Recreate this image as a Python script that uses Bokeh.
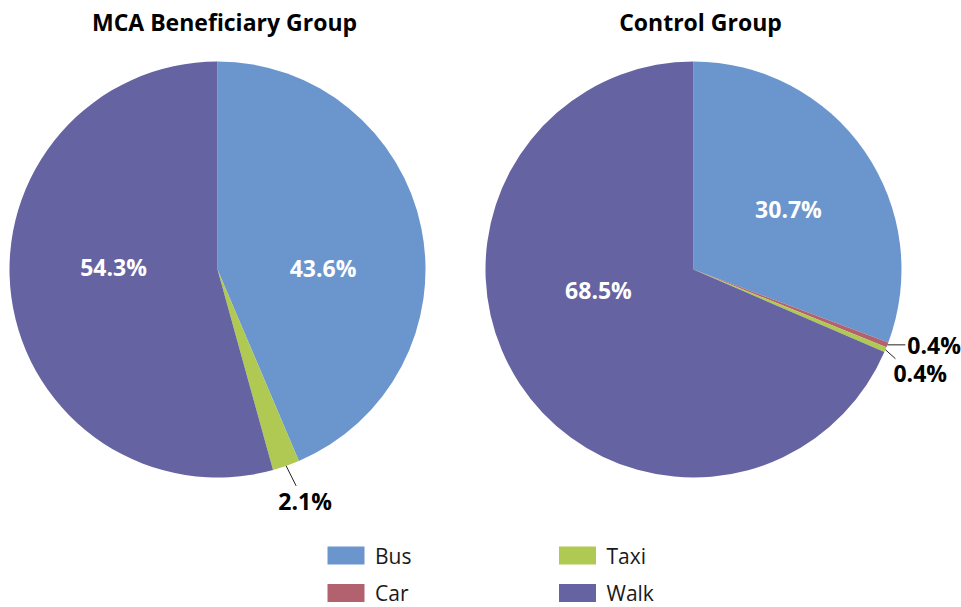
import math
from bokeh.plotting import figure
from bokeh.models import Range1d, ColumnDataSource
from bokeh.core.properties import value
from bokeh.embed import file_html
from bokeh.resources import INLINE

# ---------------- data ----------------
categories = ["Bus", "Car", "Taxi", "Walk"]
colors = ["#6A96CD", "#B2626E", "#B0C952", "#6663A2"]
titles = ["MCA Beneficiary Group", "Control Group"]
beneficiary = [43.6, 0.0, 2.1, 54.3]
control = [30.7, 0.4, 0.4, 68.5]
groups = [beneficiary, control]

# ---------------- layout / style ----------------
W, H = 961, 607
FONT = value("Open Sans")
centers = [(217, 338), (693, 338)]
R = 208
# label placement: "in" = inside at mid-angle, "out" = with leader line
# style nudges in pixels (x right, y up)
label_style = [
    [("in", (3.6, -18.8)), None, ("out", (10, -20), (9, -15), "center"), ("in", (-0.9, 17))],
    [("in", (9.5, 1.7)), ("out", (18, 0), (2, 0), "left"),
     ("out", (10, -9), (-2, -14), "left"), ("in", (-8.1, 36.1))],
]

p = figure(width=W, height=H, x_range=Range1d(0, W), y_range=Range1d(0, H),
           output_backend="svg", toolbar_location=None,
           x_axis_location=None, y_axis_location=None, min_border=0)
p.grid.visible = False
p.outline_line_color = None
p.background_fill_color = "white"

for gi, vals in enumerate(groups):
    cx, cy = centers[gi]
    total = sum(vals)
    cum = 0.0
    xs, ys, starts, ends, cols = [], [], [], [], []
    in_x, in_y, in_t = [], [], []
    out_x, out_y, out_t, out_align = [], [], [], []
    lx0, ly0, lx1, ly1 = [], [], [], []
    for ci, v in enumerate(vals):
        f0 = cum / total
        f1 = (cum + v) / total
        cum += v
        if v <= 0:
            continue
        xs.append(cx); ys.append(cy)
        starts.append(math.pi / 2 - 2 * math.pi * f0)
        ends.append(math.pi / 2 - 2 * math.pi * f1)
        cols.append(colors[ci])
        theta = 2 * math.pi * (f0 + f1) / 2  # clockwise from top
        st = label_style[gi][ci]
        txt = f"{v:.1f}%"
        if st is None:
            continue
        if st[0] == "in":
            dx, dy = st[1]
            in_x.append(cx + 0.5 * R * math.sin(theta) + dx)
            in_y.append(cy + 0.5 * R * math.cos(theta) + dy)
            in_t.append(txt)
        else:
            ex = cx + R * math.sin(theta)
            ey = cy + R * math.cos(theta)
            ldx, ldy = st[1]
            tdx, tdy = st[2]
            lx0.append(ex); ly0.append(ey)
            lx1.append(ex + ldx); ly1.append(ey + ldy)
            out_x.append(ex + ldx + tdx); out_y.append(ey + ldy + tdy)
            out_t.append(txt); out_align.append(st[3])

    src = ColumnDataSource(dict(x=xs, y=ys, s=starts, e=ends, c=cols))
    p.wedge(x="x", y="y", radius=R, start_angle="s", end_angle="e",
            direction="clock", fill_color="c", line_color=None, source=src)

    p.text(x=in_x, y=in_y, text=in_t, text_color="white", text_font=FONT,
           text_font_style="bold", text_font_size="23px",
           text_align="center", text_baseline="middle")
    if lx0:
        p.segment(x0=lx0, y0=ly0, x1=lx1, y1=ly1, line_color="#222222", line_width=1)
        osrc = ColumnDataSource(dict(x=out_x, y=out_y, t=out_t, a=out_align))
        p.text(x="x", y="y", text="t", text_align="a", text_color="black",
               text_font=FONT, text_font_style="bold", text_font_size="23px",
               text_baseline="middle", source=osrc)

    p.text(x=[cx + 7], y=[586], text=[titles[gi]], text_color="black", text_font=FONT,
           text_font_style="bold", text_font_size="23px",
           text_align="center", text_baseline="middle")

# legend (2 columns, column-major)
leg_cols_x = [345.5, 577]
leg_rows_y = [52, 14.5]
sw_x, sw_y, tx, ty = [], [], [], []
for i, cat in enumerate(categories):
    col, row = divmod(i, 2)
    sw_x.append(leg_cols_x[col]); sw_y.append(leg_rows_y[row])
    tx.append(leg_cols_x[col] + 29); ty.append(leg_rows_y[row])
p.rect(x=sw_x, y=sw_y, width=37, height=18, fill_color=colors, line_color=None)
p.text(x=tx, y=ty, text=categories, text_color="#1a1a1a", text_font=FONT,
       text_font_size="21px", text_baseline="middle", text_align="left")

open("out.html", "w").write(file_html(p, INLINE))
